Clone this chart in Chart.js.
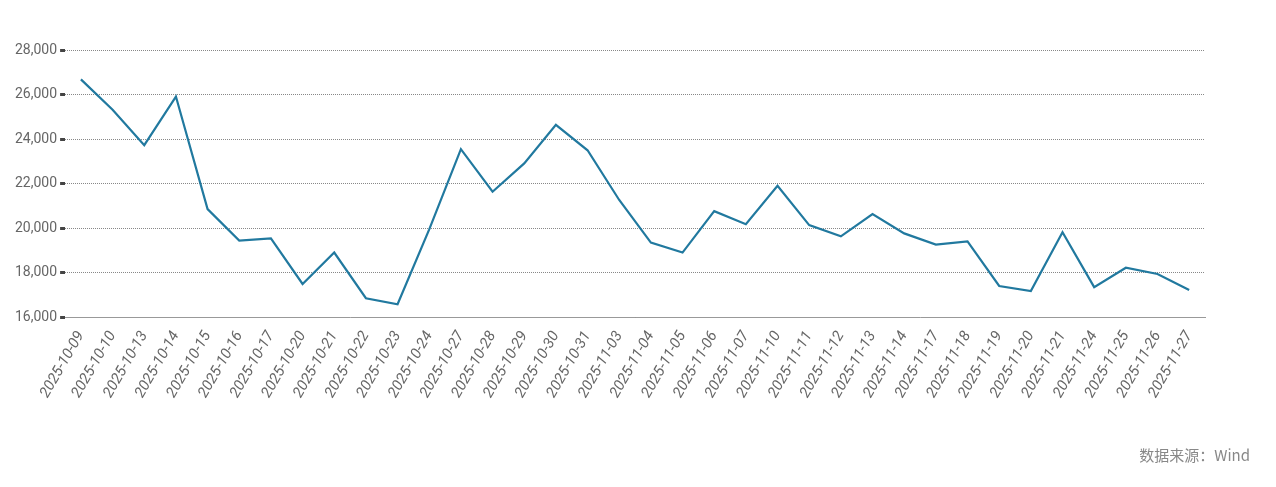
<!DOCTYPE html>
<html>
<head>
<meta charset="utf-8">
<script src="https://cdn.jsdelivr.net/npm/chart.js@4/dist/chart.umd.min.js"></script>
<style>
body{margin:0;background:#fff;}
#wrap{position:relative;width:1276px;height:487px;}
#src{position:absolute;right:26px;top:444px;font:15px "Noto Sans CJK SC",sans-serif;color:#888;}
</style>
</head>
<body>
<div id="wrap">
<canvas id="chart" width="1276" height="487"></canvas>
<div id="src">数据来源：Wind</div>
</div>
<script>
const dates = ["2025-10-09","2025-10-10","2025-10-13","2025-10-14","2025-10-15","2025-10-16","2025-10-17","2025-10-20","2025-10-21","2025-10-22","2025-10-23","2025-10-24","2025-10-27","2025-10-28","2025-10-29","2025-10-30","2025-10-31","2025-11-03","2025-11-04","2025-11-05","2025-11-06","2025-11-07","2025-11-10","2025-11-11","2025-11-12","2025-11-13","2025-11-14","2025-11-17","2025-11-18","2025-11-19","2025-11-20","2025-11-21","2025-11-24","2025-11-25","2025-11-26","2025-11-27"];
const values = [26680,25320,23730,25910,20860,19450,19550,17500,18910,16860,16590,19950,23550,21640,22910,24640,23500,21270,19360,18910,20770,20180,21910,20140,19640,20640,19770,19270,19410,17410,17180,19820,17360,18230,17950,17230];
const yTicks = [16000,18000,20000,22000,24000,26000,28000];

new Chart(document.getElementById("chart"),{
    type:"line",
    data:{
        labels:dates,
        datasets:[{data:values,borderColor:"#21799f",borderWidth:2.2,pointRadius:0,tension:0}]
    },
    options:{
        responsive:false,
        animation:false,
        layout:{padding:{top:50,right:71,left:12,bottom:83}},
        plugins:{legend:{display:false},tooltip:{enabled:false}},
        scales:{
            x:{
                offset:true,
                grid:{display:false},
                border:{color:"#999"},
                ticks:{color:"#666",font:{family:"Roboto",size:15,style:"italic"},maxRotation:60,minRotation:60,autoSkip:false}
            },
            y:{
                min:16000,max:28000,
                afterBuildTicks:a=>{a.ticks=yTicks.map(v=>({value:v}));},
                grid:{color:"#888",tickColor:"#444",tickLength:5,tickWidth:3},
                border:{display:false,dash:[1,1]},
                ticks:{color:"#666",font:{family:"Roboto",size:14},callback:v=>v.toLocaleString("en-US")}
            }
        }
    }
});
</script>
</body>
</html>
